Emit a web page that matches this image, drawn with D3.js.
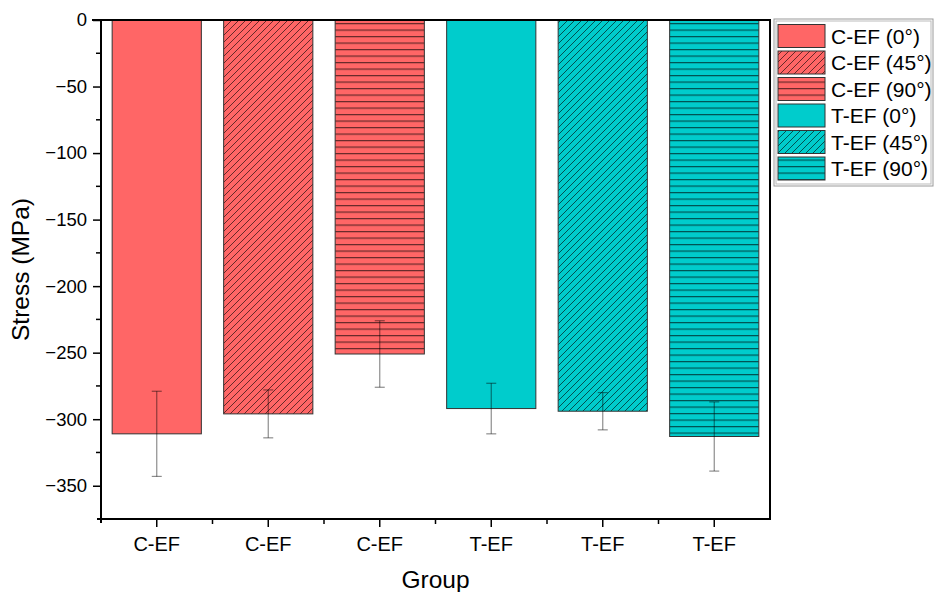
<!DOCTYPE html>
<html><head><meta charset="utf-8">
<script src="https://cdn.jsdelivr.net/npm/d3@7"></script>
<style>body{margin:0;background:#fff;} svg{display:block;font-family:"Liberation Sans",Arial,sans-serif;}</style>
</head><body>
<script>
const categories = ["C-EF","C-EF","C-EF","T-EF","T-EF","T-EF"];
const seriesNames = ["C-EF (0°)","C-EF (45°)","C-EF (90°)","T-EF (0°)","T-EF (45°)","T-EF (90°)"];
const means = [-311, -296, -251, -292, -294, -313];
const errors = [32, 18, 25, 19, 14, 26];
const fillColors = ["#FF6666","#FF6666","#FF6666","#00CCCC","#00CCCC","#00CCCC"];
const hatches = ["none","diag","horiz","none","diag","horiz"];
const yTicks = [0,-50,-100,-150,-200,-250,-300,-350];

const W=935,H=592;
const m={l:101,t:20,r:770,b:519};
const svg=d3.select("body").append("svg").attr("width",W).attr("height",H);
const defs=svg.append("defs");

const x=d3.scaleBand().domain(d3.range(categories.length)).range([m.l,m.r]).paddingInner(0.2).paddingOuter(0.1);
const xc=d3.scaleBand().domain(d3.range(categories.length)).range([m.l,m.r]);
const y=d3.scaleLinear().domain([0,-375]).range([m.t,m.b]);

function fillFor(i){
  if(hatches[i]==="none") return fillColors[i];
  const id="pat"+i;
  if(hatches[i]==="diag"){
    const p=defs.append("pattern").attr("id",id).attr("patternUnits","userSpaceOnUse").attr("width",7).attr("height",7);
    p.append("rect").attr("width",7).attr("height",7).attr("fill",fillColors[i]);
    p.append("path").attr("d","M-1,8 L8,-1 M-1,1 L1,-1 M6,8 L8,6").attr("stroke","rgba(0,0,0,0.6)").attr("stroke-width",1);
  } else {
    const p=defs.append("pattern").attr("id",id).attr("patternUnits","userSpaceOnUse").attr("width",10).attr("height",6.5).attr("y",m.t+3);
    p.append("rect").attr("width",10).attr("height",6.5).attr("fill",fillColors[i]);
    p.append("line").attr("x1",0).attr("x2",10).attr("y1",0.6).attr("y2",0.6).attr("stroke","rgba(0,0,0,0.6)").attr("stroke-width",1.2);
  }
  return "url(#"+id+")";
}
const fills=d3.range(categories.length).map(fillFor);

// bars
svg.append("g").selectAll("rect").data(means).join("rect")
  .attr("x",(d,i)=>x(i)).attr("width",x.bandwidth())
  .attr("y",y(0)).attr("height",d=>y(d)-y(0))
  .attr("fill",(d,i)=>fills[i]).attr("stroke","#333").attr("stroke-width",1);

// error bars
const eg=svg.append("g").attr("stroke","rgba(0,0,0,0.45)").attr("stroke-width",1.2);
means.forEach((d,i)=>{
  const cx=xc(i)+xc.bandwidth()/2;
  eg.append("line").attr("x1",cx).attr("x2",cx).attr("y1",y(d+errors[i])).attr("y2",y(d-errors[i]));
  [d+errors[i],d-errors[i]].forEach(v=>eg.append("line").attr("x1",cx-5).attr("x2",cx+5).attr("y1",y(v)).attr("y2",y(v)));
});

// frame
const ax=svg.append("g").attr("stroke","#000").attr("stroke-width",2).attr("fill","none");
ax.append("line").attr("x1",m.l-9).attr("x2",m.r+1).attr("y1",m.t).attr("y2",m.t);
ax.append("line").attr("x1",m.l).attr("x2",m.l).attr("y1",m.t).attr("y2",m.b+4);
ax.append("line").attr("x1",m.r).attr("x2",m.r).attr("y1",m.t).attr("y2",m.b+1);
ax.append("line").attr("x1",m.l-4).attr("x2",m.r+1).attr("y1",m.b).attr("y2",m.b);

// y axis
const yAxis=d3.axisLeft(y).tickValues(yTicks).tickSize(8).tickPadding(6).tickFormat(d=>d3.format("d")(d).replace("-","\u2212"));
const gy=svg.append("g").attr("transform",`translate(${m.l},0)`).call(yAxis);
gy.select(".domain").remove();
gy.selectAll(".tick line").attr("stroke-width",1.5);
gy.selectAll("text").attr("font-size",18.5).attr("fill","#000").attr("font-family","Liberation Sans, Arial, sans-serif");
const yMinor=d3.range(-25,-375,-50);
svg.append("g").selectAll("line").data(yMinor).join("line")
  .attr("x1",m.l-5).attr("x2",m.l).attr("y1",d=>y(d)).attr("y2",d=>y(d)).attr("stroke","#000").attr("stroke-width",1.5);

// x axis
const gx=svg.append("g").attr("transform",`translate(0,${m.b})`)
  .call(d3.axisBottom(xc).tickSize(8).tickPadding(10).tickFormat(i=>categories[i]));
gx.select(".domain").remove();
gx.selectAll(".tick line").attr("stroke-width",1.5);
gx.selectAll("text").attr("font-size",20).attr("fill","#000").attr("font-family","Liberation Sans, Arial, sans-serif");
svg.append("g").selectAll("line").data(d3.range(1,categories.length)).join("line")
  .attr("x1",i=>xc(i)).attr("x2",i=>xc(i)).attr("y1",m.b).attr("y2",m.b+5).attr("stroke","#000").attr("stroke-width",1.5);

// titles
svg.append("text").attr("x",(m.l+m.r)/2).attr("y",588).attr("text-anchor","middle").attr("font-size",24.5).text("Group");
svg.append("text").attr("transform",`translate(29,${(m.t+m.b)/2}) rotate(-90)`).attr("text-anchor","middle").attr("font-size",24.5).text("Stress (MPa)");

// legend
const lg=svg.append("g");
lg.append("rect").attr("x",774).attr("y",19).attr("width",159).attr("height",167).attr("fill","#fff").attr("stroke","#999").attr("stroke-width",1);
lg.append("rect").attr("x",776).attr("y",21).attr("width",155).attr("height",163).attr("fill","none").attr("stroke","#bbb").attr("stroke-width",1);
seriesNames.forEach((s,i)=>{
  const yy=24.5+i*26.5;
  lg.append("rect").attr("x",778).attr("y",yy).attr("width",47).attr("height",23).attr("fill",fills[i]).attr("stroke","#333").attr("stroke-width",1);
  lg.append("text").attr("x",831).attr("y",yy+19).attr("font-size",21).text(s);
});
</script>
</body></html>
